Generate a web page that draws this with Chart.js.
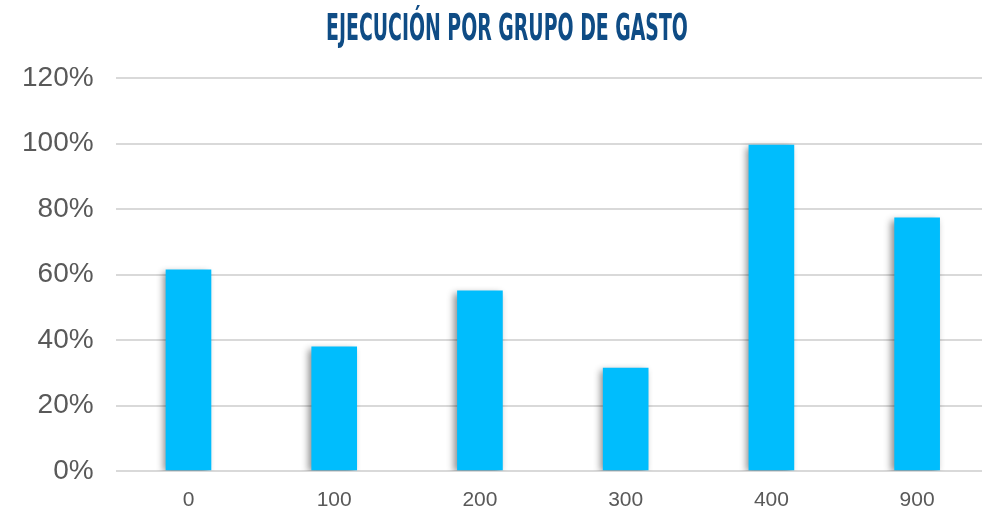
<!DOCTYPE html>
<html>
<head>
<meta charset="utf-8">
<script src="https://cdn.jsdelivr.net/npm/chart.js@4.4.1/dist/chart.umd.min.js"></script>
<style>
    html, body { margin: 0; padding: 0; background: #fff; overflow: hidden; }
    #wrap { position: relative; width: 982px; height: 508px; overflow: hidden; }
    #chartTitle {
        position: absolute; top: 6px; left: 0; width: 1014px; text-align: center;
        font-family: "Liberation Sans Narrow", "DejaVu Sans Condensed", sans-serif;
        font-weight: bold; font-size: 37px; color: #0f4c85;
        transform-origin: 507px 0; transform: scaleX(0.567);
        white-space: nowrap;
    }
    #execChart { position: absolute; left: 0; top: 0; }
</style>
</head>
<body>
<div id="wrap">
    <canvas id="execChart" width="990" height="508"></canvas>
    <div id="chartTitle">EJECUCIÓN POR GRUPO DE GASTO</div>
</div>
<script>
const categories = ["0", "100", "200", "300", "400", "900"];
const executionPct = [61.4, 37.9, 55.0, 31.4, 99.5, 77.3];
const yTicks = [0, 20, 40, 60, 80, 100, 120];

const barShadow = {
    id: "barShadow",
    beforeDatasetsDraw(chart) {
        const ctx = chart.ctx;
        ctx.save();
        ctx.shadowColor = "rgba(0,0,0,0.45)";
        ctx.shadowBlur = 7;
        ctx.shadowOffsetX = -3;
        ctx.shadowOffsetY = 2;
    },
    afterDatasetsDraw(chart) {
        chart.ctx.restore();
    }
};

window.addEventListener("load", () => {
    const ctx = document.getElementById("execChart");
    new Chart(ctx, {
        type: "bar",
        data: {
            labels: categories,
            datasets: [{
                label: "Ejecución",
                data: executionPct,
                backgroundColor: "#00bdfd",
                borderWidth: 0,
                barThickness: 45
            }]
        },
        options: {
            responsive: false,
            animation: false,
            layout: { padding: { top: 78, left: 0, right: 0, bottom: 0 } },
            plugins: {
                legend: { display: false },
                tooltip: { enabled: false }
            },
            scales: {
                x: {
                    grid: { display: false, drawTicks: false },
                    border: { display: false },
                    afterFit: scale => { scale.height = 37; },
                    ticks: {
                        color: "#595959",
                        font: { family: "Liberation Sans, Arial, sans-serif", size: 21 },
                        padding: 17,
                        maxRotation: 0
                    }
                },
                y: {
                    min: 0,
                    max: 120,
                    afterBuildTicks: axis => { axis.ticks = yTicks.map(v => ({ value: v })); },
                    grid: { color: "#d9d9d9", lineWidth: 2, drawTicks: false },
                    border: { display: false },
                    ticks: {
                        color: "#595959",
                        font: { family: "Liberation Sans, Arial, sans-serif", size: 28, lineHeight: 1 },
                        padding: 22,
                        callback: value => value + "%"
                    }
                }
            }
        },
        plugins: [barShadow]
    });
});
</script>
</body>
</html>
